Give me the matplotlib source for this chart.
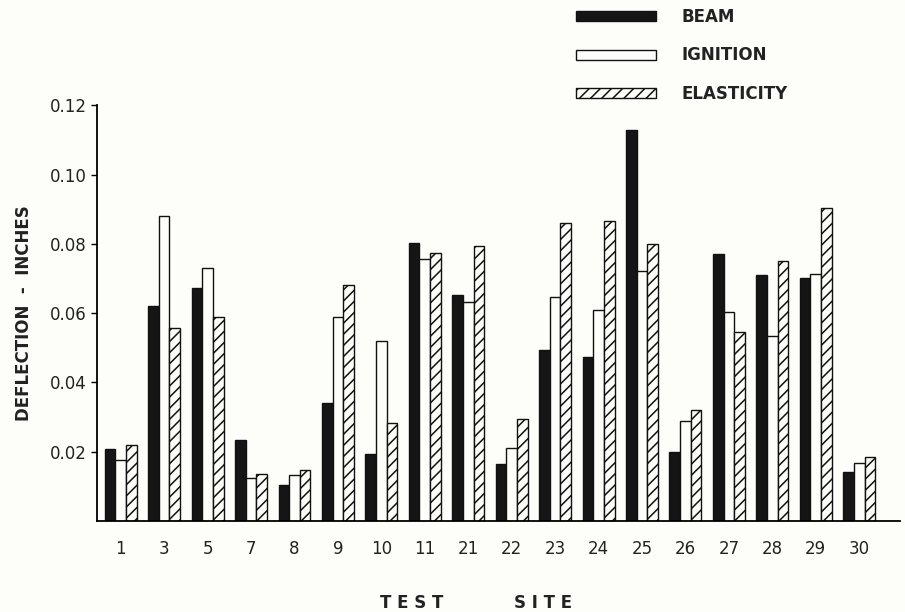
import matplotlib
matplotlib.use("Agg")
import matplotlib.pyplot as plt
import numpy as np
from matplotlib.patches import Patch

sites = ["1", "3", "5", "7", "8", "9", "10", "11", "21", "22", "23", "24", "25", "26", "27", "28", "29", "30"]
beam = [0.0207, 0.0620, 0.0673, 0.0233, 0.0104, 0.0340, 0.0193, 0.0803, 0.0653, 0.0164, 0.0492, 0.0472,
        0.1128, 0.0199, 0.0771, 0.0710, 0.0702, 0.0141]
ignition = [0.0176, 0.0880, 0.0730, 0.0124, 0.0132, 0.0590, 0.0520, 0.0757, 0.0633, 0.0210, 0.0647, 0.0610,
            0.0720, 0.0288, 0.0604, 0.0535, 0.0714, 0.0167]
elasticity = [0.0219, 0.0558, 0.0590, 0.0135, 0.0147, 0.0680, 0.0282, 0.0774, 0.0794, 0.0293, 0.0860, 0.0866,
              0.0800, 0.0320, 0.0544, 0.0751, 0.0903, 0.0184]
series_names = ["BEAM", "IGNITION", "ELASTICITY"]
yticks = [0.02, 0.04, 0.06, 0.08, 0.10, 0.12]
ytick_labels = ["0.02", "0.04", "0.06", "0.08", "0.10", "0.12"]

bg = "#fdfdf9"
plt.rcParams["hatch.linewidth"] = 1.1
plt.rcParams["font.family"] = ["DejaVu Sans"]

fig = plt.figure(figsize=(9.05, 6.12), dpi=100, facecolor=bg)
ax = fig.add_axes([0.107, 0.149, 0.888, 0.679], facecolor=bg)

x = np.arange(len(sites))
w = 0.245
kw = dict(edgecolor="#111111", linewidth=1.0)
ax.bar(x - w, beam, w, color="#151515", label=series_names[0], **kw)
ax.bar(x, ignition, w, color=bg, label=series_names[1], **kw)
ax.bar(x + w, elasticity, w, color=bg, hatch="///", label=series_names[2], **kw)

ax.set_xlim(-0.55, 17.95)
ax.set_ylim(0, 0.12)
ax.set_yticks(yticks)
ax.set_yticklabels(ytick_labels, fontsize=12, color="#222222")
ax.set_xticks(x)
ax.set_xticklabels(sites, fontsize=12, color="#222222")
ax.tick_params(axis="x", length=0, pad=14)
ax.tick_params(axis="y", length=4, width=1, direction="out", pad=3)
for s in ["top", "right"]:
    ax.spines[s].set_visible(False)
ax.spines["left"].set_linewidth(1.3)
ax.spines["bottom"].set_linewidth(1.3)

ax.set_ylabel("DEFLECTION  -  INCHES", fontsize=12, fontweight="bold", color="#222222", labelpad=12)
fig.text(0.455, 0.006, "T E S T", fontsize=12, fontweight="bold", color="#222222", ha="center")
fig.text(0.600, 0.006, "S I T E", fontsize=12, fontweight="bold", color="#222222", ha="center")

handles = [Patch(facecolor="#151515", edgecolor="#111111", linewidth=1.0),
           Patch(facecolor=bg, edgecolor="#111111", linewidth=1.0),
           Patch(facecolor=bg, edgecolor="#111111", linewidth=1.0, hatch="///")]
leg = fig.legend(handles, series_names, loc="upper left", bbox_to_anchor=(0.62, 1.012),
                 frameon=False, fontsize=12, handlelength=4.8, handleheight=0.55,
                 labelspacing=1.25, handletextpad=1.5)
for t in leg.get_texts():
    t.set_fontweight("bold")
    t.set_color("#222222")

fig.savefig("out.png", dpi=100, facecolor=bg)
